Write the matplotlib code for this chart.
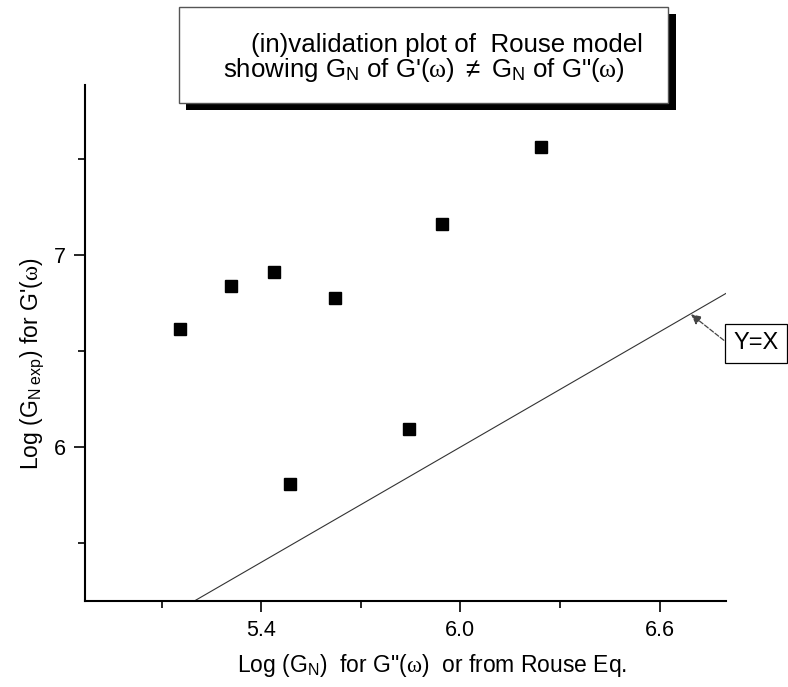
import numpy as np
import matplotlib.pyplot as plt
from matplotlib.patches import Rectangle
from matplotlib.ticker import FixedLocator

plt.rcParams['font.family'] = ['Liberation Sans', 'DejaVu Sans']
plt.rcParams['mathtext.fontset'] = 'custom'
plt.rcParams['mathtext.rm'] = 'Liberation Sans'
plt.rcParams['mathtext.it'] = 'Liberation Serif'

# data
log_gn = [5.156, 5.310, 5.438, 5.621, 5.487, 5.846, 5.946, 6.243]
log_gn_exp = [6.615, 6.839, 6.911, 6.778, 5.807, 6.092, 7.160, 7.564]
line_x = [5.2, 6.8]

x_major = [5.4, 6.0, 6.6]
x_minor = [5.1, 5.7, 6.3]
y_major = [6, 7]
y_minor = [5.5, 6.5, 7.5]

W, H = 788, 687
fig = plt.figure(figsize=(W / 100, H / 100), dpi=100)
ax = fig.add_axes([85.3 / W, 1 - 600.7 / H, (726 - 85.3) / W, (600.7 - 85) / H])


def fx(px):
    return px / W


def fy(py):
    return 1 - py / H


ax.plot(log_gn, log_gn_exp, 's', color='black', ms=8.8, zorder=3)
ax.plot(line_x, line_x, color='#333333', lw=0.8)

ax.set_xlim(4.87, 6.8)
ax.set_ylim(5.2, 7.885)
ax.xaxis.set_major_locator(FixedLocator(x_major))
ax.xaxis.set_minor_locator(FixedLocator(x_minor))
ax.yaxis.set_major_locator(FixedLocator(y_major))
ax.yaxis.set_minor_locator(FixedLocator(y_minor))
ax.set_xticklabels(['5.4', '6.0', '6.6'])
ax.set_yticklabels(['6', '7'])
ax.tick_params(which='major', direction='out', length=8, width=1.2, labelsize=15.5, pad=6)
ax.tick_params(which='minor', direction='out', length=5, width=1.2)

for s in ['top', 'right']:
    ax.spines[s].set_visible(False)
for s in ['left', 'bottom']:
    ax.spines[s].set_linewidth(1.5)

ax.set_xlabel("Log (G$_{\\rm N}$)  for G\"($\\omega$)  or from Rouse Eq.", fontsize=16.5)
ax.xaxis.set_label_coords(0.541, -0.1)
ax.set_ylabel("Log (G$_{\\rm N\\ exp}$) for G'($\\omega$)", fontsize=16.5)
ax.yaxis.set_label_coords(-0.062, 0.46)

# Y=X annotation
ax.annotate('', xy=(6.688, 6.70), xytext=(6.8, 6.547), xycoords='data',
            annotation_clip=False,
            arrowprops=dict(arrowstyle='-|>', linestyle='--', color='#444444',
                            lw=0.9, mutation_scale=15))
fig.text(fx(756), fy(343), 'Y=X', fontsize=17, ha='center', va='center',
         bbox=dict(boxstyle='square,pad=0.36', facecolor='white', edgecolor='black', lw=0.9))

# title box with shadow
fig.patches.append(Rectangle((fx(186), fy(110)), fx(676) - fx(186), fy(14) - fy(110),
                             transform=fig.transFigure, facecolor='black', edgecolor='none'))
fig.patches.append(Rectangle((fx(179), fy(103)), fx(668) - fx(179), fy(7) - fy(103),
                             transform=fig.transFigure, facecolor='white', edgecolor='#555555', lw=1))
fig.text(fx(447), fy(52), '(in)validation plot of  Rouse model', fontsize=18.6,
         ha='center', va='baseline')
fig.text(fx(424), fy(77), "showing G$_{\\rm N}$ of G'($\\omega$) $\\neq$ G$_{\\rm N}$ of G\"($\\omega$)",
         fontsize=18.6, ha='center', va='baseline')

fig.savefig('out.png', dpi=100)
